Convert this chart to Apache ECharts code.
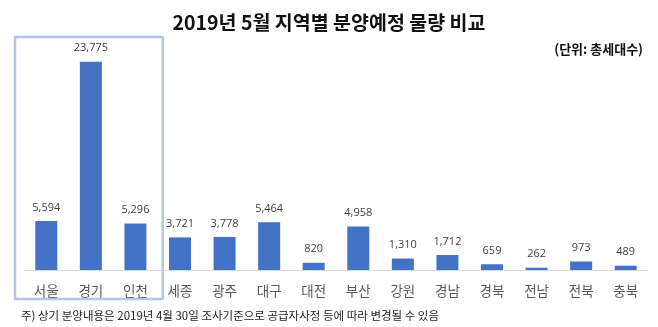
<!DOCTYPE html>
<html><head><meta charset="utf-8">
<script src="https://cdn.jsdelivr.net/npm/echarts@6/dist/echarts.min.js"></script>
<style>html,body{margin:0;padding:0;background:#fff}#c{width:658px;height:327px}</style>
</head><body><div id="c"></div>
<script>
const categories = ['서울','경기','인천','세종','광주','대구','대전','부산','강원','경남','경북','전남','전북','충북'];
const values = [5594, 23775, 5296, 3721, 3778, 5464, 820, 4958, 1310, 1712, 659, 262, 973, 489];
const titleText = '2019년 5월 지역별 분양예정 물량 비교';
const unitText = '(단위: 총세대수)';
const noteText = '주) 상기 분양내용은 2019년 4월 30일 조사기준으로 공급자사정 등에 따라 변경될 수 있음';
const highlighted = ['서울','인천'];

const FONT = '"Noto Sans CJK KR","Noto Sans",sans-serif';
const chart = echarts.init(document.getElementById('c'));
chart.setOption({
  animation: false,
  title: [
    {text: titleText, left: 'center', top: 8,
     textStyle: {fontSize: 19.5, fontWeight: 'bold', color: '#111', fontFamily: FONT}},
    {text: unitText, right: 10, top: 38,
     textStyle: {fontSize: 13, fontWeight: 'bold', color: '#111', fontFamily: FONT}},
    {text: noteText, left: 16, top: 305,
     textStyle: {fontSize: 11.5, fontWeight: 'normal', color: '#222', fontFamily: FONT}}
  ],
  grid: {left: 24, right: 10, top: 51, bottom: 57},
  xAxis: {
    type: 'category', data: categories,
    axisLine: {lineStyle: {color: '#d9d9d9', width: 1}},
    axisTick: {show: false},
    axisLabel: {fontSize: 13.5, color: '#595959', margin: 14, fontFamily: FONT}
  },
  yAxis: {type: 'value', min: 0, max: 25000, show: false, splitLine: {show: false}},
  series: [{
    type: 'bar', data: values, barWidth: 22,
    itemStyle: {color: '#4472C4'},
    label: {show: true, position: 'top', distance: 8, fontSize: 11, color: '#404040',
      fontFamily: '"Open Sans",sans-serif',
      formatter: p => p.value.toLocaleString('en-US')}
  }]
});
const c0 = chart.convertToPixel({xAxisIndex: 0}, highlighted[0]);
const c1 = chart.convertToPixel({xAxisIndex: 0}, highlighted[1]);
const band = (658 - 24 - 10) / categories.length;
const x0 = c0 - band / 2 - 9, x1 = c1 + band / 2 + 5;
chart.setOption({
  graphic: [{type: 'rect', shape: {x: x0, y: 37, width: x1 - x0, height: 262},
    style: {fill: 'none', stroke: '#b4c7e7', lineWidth: 2.5}, z: 10}]
});
</script></body></html>
